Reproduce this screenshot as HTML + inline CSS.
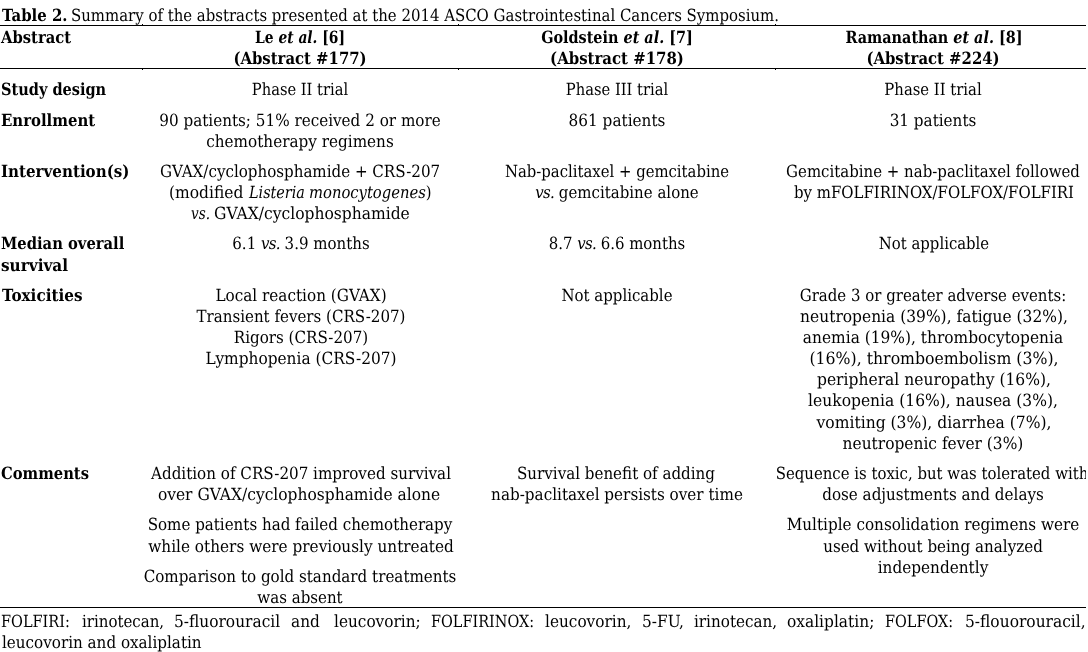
<!DOCTYPE html>
<html lang="en"><head><meta charset="utf-8"><title>Table 2</title>
<style>
html,body{margin:0;padding:0;background:#fff}
body{width:1088px;height:652px;position:relative;overflow:hidden;color:#000;text-rendering:geometricPrecision;font:16.8px/20px 'DejaVu Serif Condensed','DejaVu Serif','Liberation Serif',serif}
.t{position:absolute;height:20px;line-height:20px;white-space:pre;display:block}
.c{text-align:center;transform-origin:50% 50%;width:340px}
.l{transform-origin:0 50%}
.b{font-weight:bold}
.r{position:absolute;left:0;width:1086px;height:1px;background:#000}
.k{position:absolute;width:1px;height:1px;background:#000}
p.foot{margin:0}
.clip{position:absolute;left:0;top:0;width:1086px;height:652px;overflow:hidden}
</style></head><body>
<div class="clip">
<div role="table" aria-label="Table 2">
<div role="caption" class="cap">
<span class="t l b" style="left:2.00px;top:4.50px;transform:scaleX(0.9875)"><b>Table 2.</b></span>
<span class="t l" style="left:70.55px;top:4.50px;transform:scaleX(0.9893)">Summary of the abstracts presented at the 2014 ASCO Gastrointestinal Cancers Symposium.</span>
</div>
<div class="r" style="top:25px"></div>
<div role="row" class="row head">
 <div role="columnheader">
  <span class="t l b" style="left:1.20px;top:26.60px;transform:scaleX(0.9780)">Abstract</span>
 </div>
 <div role="columnheader">
  <span class="t c b" style="left:130.40px;top:26.60px;transform:scaleX(0.9163)">Le <i>et al.</i> [6]</span>
  <span class="t c b" style="left:130.40px;top:47.80px;transform:scaleX(0.9842)">(Abstract #177)</span>
 </div>
 <div role="columnheader">
  <span class="t c b" style="left:446.80px;top:26.60px;transform:scaleX(0.9540)">Goldstein <i>et al.</i> [7]</span>
  <span class="t c b" style="left:446.90px;top:47.80px;transform:scaleX(0.9884)">(Abstract #178)</span>
 </div>
 <div role="columnheader">
  <span class="t c b" style="left:763.80px;top:26.60px;transform:scaleX(0.9531)">Ramanathan <i>et al.</i> [8]</span>
  <span class="t c b" style="left:763.00px;top:47.80px;transform:scaleX(0.9842)">(Abstract #224)</span>
 </div>
</div>
<div class="r" style="top:68px"></div>
<div role="row" class="row r1">
 <div role="rowheader">
  <span class="t l b" style="left:0.90px;top:79.00px;transform:scaleX(0.9615)">Study design</span>
 </div>
 <div role="cell">
  <span class="t c" style="left:130.10px;top:79.00px;transform:scaleX(0.9733)">Phase II trial</span>
 </div>
 <div role="cell">
  <span class="t c" style="left:446.50px;top:79.00px;transform:scaleX(0.9756)">Phase III trial</span>
 </div>
 <div role="cell">
  <span class="t c" style="left:763.20px;top:79.00px;transform:scaleX(0.9824)">Phase II trial</span>
 </div>
</div>
<div role="row" class="row r2">
 <div role="rowheader">
  <span class="t l b" style="left:0.90px;top:109.60px;transform:scaleX(0.9863)">Enrollment</span>
 </div>
 <div role="cell">
  <span class="t c" style="left:130.40px;top:109.70px;transform:scaleX(1.0069)">90 patients; 51% received 2 or more</span>
  <span class="t c" style="left:129.90px;top:130.70px;transform:scaleX(1.0092)">chemotherapy regimens</span>
 </div>
 <div role="cell">
  <span class="t c" style="left:446.90px;top:109.70px;transform:scaleX(1.0121)">861 patients</span>
 </div>
 <div role="cell">
  <span class="t c" style="left:762.80px;top:109.70px;transform:scaleX(1.0074)">31 patients</span>
 </div>
</div>
<div role="row" class="row r3">
 <div role="rowheader">
  <span class="t l b" style="left:0.90px;top:160.50px;transform:scaleX(0.9996)">Intervention(s)</span>
 </div>
 <div role="cell">
  <span class="t c" style="left:130.00px;top:160.50px;transform:scaleX(0.9997)">GVAX/cyclophosphamide + CRS-207</span>
  <span class="t l" style="left:168.80px;top:182.00px;transform:scaleX(1.0268)">(modified </span>
  <span class="t l" style="left:248.60px;top:182.00px;transform:scaleX(0.9516)"><i>Listeria</i> </span>
  <span class="t l" style="left:309.00px;top:182.00px;transform:scaleX(0.9787)"><i>monocytogenes</i>)</span>
  <span class="t l" style="left:190.90px;top:203.00px;transform:scaleX(0.9014)"><i>vs.</i> </span>
  <span class="t l" style="left:213.60px;top:203.00px;transform:scaleX(1.0291)">GVAX/cyclophosphamide</span>
 </div>
 <div role="cell">
  <span class="t c" style="left:447.00px;top:160.50px;transform:scaleX(0.9844)">Nab-paclitaxel + gemcitabine</span>
  <span class="t c" style="left:446.50px;top:181.60px;transform:scaleX(0.9936)"><i style="letter-spacing:-.7px">vs.</i> gemcitabine alone</span>
 </div>
 <div role="cell">
  <span class="t c" style="left:763.00px;top:160.50px;transform:scaleX(0.9914)">Gemcitabine + nab-paclitaxel followed</span>
  <span class="t c" style="left:763.80px;top:181.60px;transform:scaleX(0.9893)">by mFOLFIRINOX/FOLFOX/FOLFIRI</span>
 </div>
</div>
<div role="row" class="row r4">
 <div role="rowheader">
  <span class="t l b" style="left:0.90px;top:232.50px;transform:scaleX(0.9762)">Median overall</span>
  <span class="t l b" style="left:0.90px;top:254.60px;transform:scaleX(1.0129)">survival</span>
 </div>
 <div role="cell">
  <span class="t c" style="left:130.70px;top:232.50px;transform:scaleX(0.9954)">6.1 <i style="letter-spacing:-.7px">vs.</i> 3.9 months</span>
 </div>
 <div role="cell">
  <span class="t c" style="left:446.90px;top:232.50px;transform:scaleX(0.9896)">8.7 <i style="letter-spacing:-.7px">vs.</i> 6.6 months</span>
 </div>
 <div role="cell">
  <span class="t c" style="left:763.70px;top:232.50px;transform:scaleX(0.9850)">Not applicable</span>
 </div>
</div>
<div role="row" class="row r5">
 <div role="rowheader">
  <span class="t l b" style="left:1.50px;top:284.70px;transform:scaleX(1.0079)">Toxicities</span>
 </div>
 <div role="cell">
  <span class="t c" style="left:130.90px;top:284.90px;transform:scaleX(1.0095)">Local reaction (GVAX)</span>
  <span class="t c" style="left:130.90px;top:306.10px;transform:scaleX(0.9977)">Transient fevers (CRS-207)</span>
  <span class="t c" style="left:130.90px;top:327.30px;transform:scaleX(1.0011)">Rigors (CRS-207)</span>
  <span class="t c" style="left:130.70px;top:348.00px;transform:scaleX(1.0184)">Lymphopenia (CRS-207)</span>
 </div>
 <div role="cell">
  <span class="t c" style="left:446.80px;top:284.50px;transform:scaleX(0.9910)">Not applicable</span>
 </div>
 <div role="cell">
  <span class="t c" style="left:763.40px;top:285.00px;transform:scaleX(0.9914)">Grade 3 or greater adverse events:</span>
  <span class="t c" style="left:763.50px;top:306.00px;transform:scaleX(1.0249)">neutropenia (39%), fatigue (32%),</span>
  <span class="t c" style="left:763.00px;top:327.00px;transform:scaleX(1.0208)">anemia (19%), thrombocytopenia</span>
  <span class="t c" style="left:763.50px;top:348.00px;transform:scaleX(1.0416)">(16%), thromboembolism (3%),</span>
  <span class="t c" style="left:763.70px;top:369.00px;transform:scaleX(1.0291)">peripheral neuropathy (16%),</span>
  <span class="t c" style="left:763.20px;top:390.00px;transform:scaleX(1.0279)">leukopenia (16%), nausea (3%),</span>
  <span class="t c" style="left:764.00px;top:412.00px;transform:scaleX(1.0298)">vomiting (3%), diarrhea (7%),</span>
  <span class="t c" style="left:762.80px;top:433.00px;transform:scaleX(1.0220)">neutropenic fever (3%)</span>
 </div>
</div>
<div role="row" class="row r6">
 <div role="rowheader">
  <span class="t l b" style="left:0.90px;top:463.00px;transform:scaleX(0.9762)">Comments</span>
 </div>
 <div role="cell">
  <span class="t c" style="left:130.60px;top:463.00px;transform:scaleX(1.0033)">Addition of CRS-207 improved survival</span>
  <span class="t c" style="left:129.30px;top:483.90px;transform:scaleX(1.0256)">over GVAX/cyclophosphamide alone</span>
  <span class="t c" style="left:129.70px;top:513.60px;transform:scaleX(0.9996)">Some patients had failed chemotherapy</span>
  <span class="t c" style="left:130.60px;top:536.00px;transform:scaleX(1.0130)">while others were previously untreated</span>
  <span class="t c" style="left:130.10px;top:566.00px;transform:scaleX(1.0027)">Comparison to gold standard treatments</span>
  <span class="t c" style="left:130.10px;top:587.00px;transform:scaleX(0.9960)">was absent</span>
 </div>
 <div role="cell">
  <span class="t c" style="left:446.10px;top:463.00px;transform:scaleX(1.0002)">Survival benefit of adding</span>
  <span class="t c" style="left:446.60px;top:483.90px;transform:scaleX(1.0080)">nab-paclitaxel persists over time</span>
 </div>
 <div role="cell">
  <span class="t c" style="left:762.00px;top:463.00px;transform:scaleX(0.9886)">Sequence is toxic, but was tolerated with</span>
  <span class="t c" style="left:763.20px;top:483.90px;transform:scaleX(1.0047)">dose adjustments and delays</span>
  <span class="t c" style="left:762.90px;top:513.60px;transform:scaleX(1.0083)">Multiple consolidation regimens were</span>
  <span class="t c" style="left:763.40px;top:536.00px;transform:scaleX(1.0016)">used without being analyzed</span>
  <span class="t c" style="left:763.00px;top:557.00px;transform:scaleX(1.0128)">independently</span>
 </div>
</div>
<div class="r" style="top:607px"></div>
</div>
<p class="foot">
<span class="t l" style="left:1.00px;top:611.00px;transform:scaleX(0.9599)">FOLFIRI: </span>
<span class="t l" style="left:81.50px;top:611.00px;transform:scaleX(0.9937)">irinotecan, </span>
<span class="t l" style="left:173.70px;top:611.00px;transform:scaleX(1.0210)">5-fluorouracil </span>
<span class="t l" style="left:291.20px;top:611.00px;transform:scaleX(1.0154)">and </span>
<span class="t l" style="left:333.50px;top:611.00px;transform:scaleX(1.0142)">leucovorin; </span>
<span class="t l" style="left:430.50px;top:611.00px;transform:scaleX(0.9564)">FOLFIRINOX: </span>
<span class="t l" style="left:545.20px;top:611.00px;transform:scaleX(1.0140)">leucovorin, </span>
<span class="t l" style="left:641.50px;top:611.00px;transform:scaleX(1.0183)">5-FU, </span>
<span class="t l" style="left:694.20px;top:611.00px;transform:scaleX(1.0057)">irinotecan, </span>
<span class="t l" style="left:786.50px;top:611.00px;transform:scaleX(1.0221)">oxaliplatin; </span>
<span class="t l" style="left:885.20px;top:611.00px;transform:scaleX(0.9544)">FOLFOX: </span>
<span class="t l" style="left:964.50px;top:611.00px;transform:scaleX(1.0240)">5-flouorouracil,</span>
<span class="t l" style="left:1.60px;top:631.60px;transform:scaleX(1.0044)">leucovorin and oxaliplatin</span>
</p>
<i class="k" style="left:142px;top:24px"></i><i class="k" style="left:142px;top:69px"></i>
<i class="k" style="left:458px;top:24px"></i><i class="k" style="left:458px;top:69px"></i>
<i class="k" style="left:775px;top:24px"></i><i class="k" style="left:775px;top:69px"></i>
</div>
</body></html>
